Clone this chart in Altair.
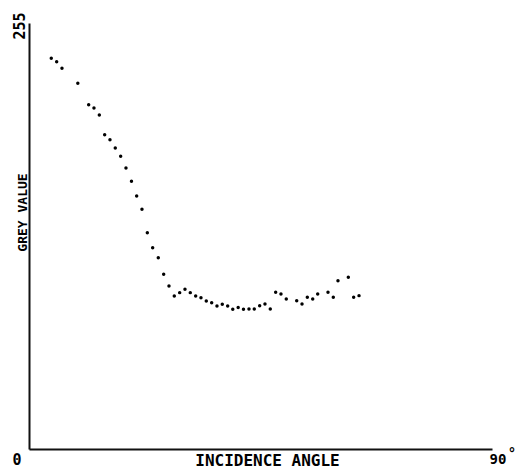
import altair as alt
import pandas as pd

angle = [4.33, 5.38, 6.41, 9.49, 11.60, 12.63, 13.67, 14.71, 15.74, 16.77,
         17.82, 18.85, 19.92, 20.93, 21.96, 23.00, 24.04, 25.13, 26.18, 27.21,
         28.24, 29.29, 30.32, 31.35, 32.40, 33.43, 34.46, 35.51, 36.54, 37.57,
         38.62, 39.61, 40.66, 41.69, 42.76, 43.79, 44.84, 45.87, 46.90, 47.95,
         48.98, 50.01, 52.04, 53.07, 54.10, 55.15, 56.12, 58.12, 59.15, 60.06,
         62.07, 63.11, 64.15]
grey = [233.9, 231.8, 227.9, 218.9, 206.1, 204.1, 199.9, 188.1, 185.1, 180.2,
        175.3, 168.2, 160.3, 151.4, 143.5, 129.5, 120.5, 114.5, 104.6, 97.6,
        91.6, 93.6, 95.6, 93.6, 91.6, 90.6, 88.6, 87.6, 85.6, 86.6,
        85.6, 83.6, 84.7, 83.6, 83.8, 83.8, 85.8, 86.8, 83.8, 93.8,
        92.8, 89.8, 88.8, 86.8, 90.8, 89.8, 92.8, 93.8, 90.8, 100.7,
        102.8, 90.8, 91.8]

x_title = "INCIDENCE ANGLE"
y_title = "GREY VALUE"
x_min_label, x_max_label = "0", "90"
y_max_label = "255"

df = pd.DataFrame({"angle": angle, "grey": grey})

FONT = "DejaVu Sans Mono"
xs = alt.Scale(domain=[0, 90], nice=False, zero=False)
ys = alt.Scale(domain=[0, 255], nice=False, zero=False)

points = alt.Chart(df).mark_circle(size=12, color="black", opacity=1).encode(
    x=alt.X("angle:Q", scale=xs, axis=alt.Axis(
        domain=True, domainColor="#111111", domainWidth=2, ticks=False,
        labels=False, grid=False, title=x_title, titleFont=FONT,
        titleFontSize=16, titleFontWeight="bold", titleColor="black",
        titleX=238, titleY=11, titleBaseline="middle", titleAlign="center")),
    y=alt.Y("grey:Q", scale=ys, axis=alt.Axis(
        domain=True, domainColor="#111111", domainWidth=2, ticks=False,
        labels=False, grid=False, title=y_title, titleFont=FONT,
        titleFontSize=13, titleFontWeight="bold", titleColor="black",
        titleX=-7, titleY=189, titleAngle=270, titleBaseline="middle",
        titleAlign="center")),
)

def label(xv, yv, txt, **kw):
    d = pd.DataFrame({"angle": [xv], "grey": [yv], "t": [txt]})
    return alt.Chart(d).mark_text(font=FONT, fontWeight="bold", color="black",
                                  align="center", baseline="middle", **kw).encode(
        x=alt.X("angle:Q", scale=xs), y=alt.Y("grey:Q", scale=ys), text="t:N")

l0 = label(0, 0, x_min_label, fontSize=15, dx=-12, dy=11)
l90 = label(90, 0, x_max_label, fontSize=14, dx=6, dy=11)
ldeg = label(90, 0, "°", fontSize=14, dx=20, dy=5)
l255 = label(0, 255, y_max_label, fontSize=15, angle=270, dx=-3, dy=-9)

chart = alt.layer(points, l0, l90, ldeg, l255).properties(
    width=463, height=426,
    autosize=alt.AutoSizeParams(type="none"),
    padding={"left": 29, "top": 23, "right": 29, "bottom": 26},
).configure(background="white").configure_view(strokeWidth=0, stroke="transparent")

chart.save("out.html", embed_options={"renderer": "svg", "actions": False})
